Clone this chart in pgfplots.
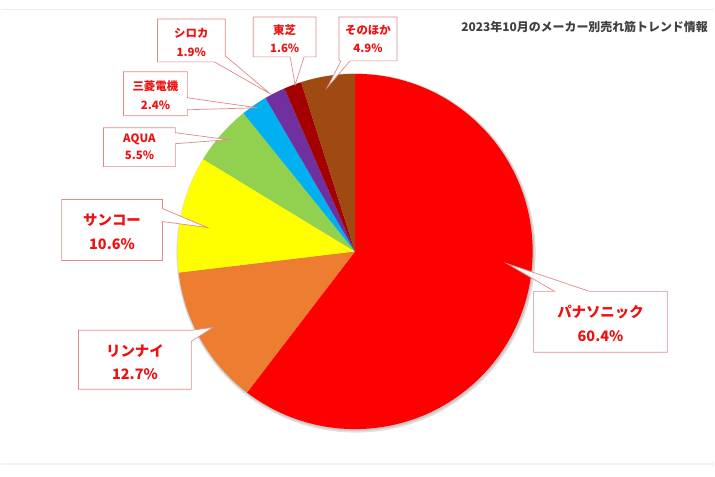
\documentclass[border=0pt]{standalone}
\usepackage{pgfplots}
\usepackage{pgfplotstable}
\pgfplotsset{compat=1.18}
\usepackage{fontspec}
\setmainfont{Noto Sans CJK JP}

\definecolor{cPan}{HTML}{FF0000}
\definecolor{cRin}{HTML}{ED7D31}
\definecolor{cSan}{HTML}{FFFF00}
\definecolor{cAqu}{HTML}{92D050}
\definecolor{cMit}{HTML}{00B0F0}
\definecolor{cShi}{HTML}{7030A0}
\definecolor{cTos}{HTML}{A50000}
\definecolor{cEtc}{HTML}{9E4A10}
\definecolor{lblred}{HTML}{EE1111}
\definecolor{boxline}{HTML}{E08A8A}
\definecolor{titlegray}{HTML}{404040}

% share in percent, clockwise from 12 o'clock
\pgfplotstableread{
name value col
パナソニック 60.4 cPan
リンナイ 12.7 cRin
サンコー 10.6 cSan
AQUA 5.5 cAqu
三菱電機 2.4 cMit
シロカ 1.9 cShi
東芝 1.6 cTos
そのほか 4.9 cEtc
}\piedata

\tikzset{
  callout/.style={draw=boxline, fill=white, line width=0.7bp, line join=miter},
  big/.style={font=\bfseries\fontsize{14.5}{17}\selectfont, text=lblred, align=center},
  small/.style={font=\bfseries\fontsize{11.5}{14}\selectfont, text=lblred, align=center},
}

\begin{document}
\begin{tikzpicture}
\begin{axis}[
    width=715bp, height=477bp, scale only axis,
    xmin=0, xmax=715, ymin=-477, ymax=0,
    hide axis, clip=false,
]
% full page area
\path (axis cs:0,0) rectangle (axis cs:715,-477);
% faint frame lines
\draw[black!7, line width=1bp] (axis cs:0,-10) -- (axis cs:715,-10);
\draw[black!5, line width=1.5bp] (axis cs:0,-465) -- (axis cs:715,-465);

% shadow
\fill[black!12] (axis cs:356,-253.5) circle[radius=180];
\fill[black!22] (axis cs:355.8,-253) circle[radius=178.8];

% slices
\pgfplotstablegetrowsof{\piedata}
\pgfmathtruncatemacro\nlast{\pgfplotsretval-1}
\xdef\slicestart{90}
\pgfplotsforeachungrouped \i in {0,...,\nlast}{
  \pgfplotstablegetelem{\i}{value}\of\piedata
  \let\sliceval\pgfplotsretval
  \pgfplotstablegetelem{\i}{col}\of\piedata
  \let\slicecol\pgfplotsretval
  \pgfmathsetmacro\sliceend{\slicestart-3.6*\sliceval}
  \edef\temp{\noexpand\fill[\slicecol] (axis cs:355,-252) --
     (axis cs:{355+178*cos(\slicestart)},{-252+178*sin(\slicestart)})
     arc[start angle=\slicestart, end angle=\sliceend, radius=178] -- cycle;}
  \temp
  \xdef\slicestart{\sliceend}
}

% callouts
\filldraw[callout] (axis cs:534,-292) -- (axis cs:555,-292) -- (axis cs:507,-264)
  -- (axis cs:590,-292) -- (axis cs:668,-292) -- (axis cs:668,-353) -- (axis cs:534,-353) -- cycle;
\node[big] at (axis cs:601,-313) {パナソニック};
\node[big] at (axis cs:601,-337) {60.4\%};

\filldraw[callout] (axis cs:78,-331) -- (axis cs:191,-331) -- (axis cs:213,-328)
  -- (axis cs:191,-342) -- (axis cs:191,-390) -- (axis cs:78,-390) -- cycle;
\node[big] at (axis cs:134.5,-352) {リンナイ};
\node[big] at (axis cs:134.5,-375) {12.7\%};

\filldraw[callout] (axis cs:61,-200) -- (axis cs:162,-200) -- (axis cs:162,-209)
  -- (axis cs:207,-228) -- (axis cs:162,-222) -- (axis cs:162,-261) -- (axis cs:61,-261) -- cycle;
\node[big] at (axis cs:111.5,-221) {サンコー};
\node[big] at (axis cs:111.5,-245) {10.6\%};

\filldraw[callout] (axis cs:103,-128) -- (axis cs:175,-128) -- (axis cs:175,-133)
  -- (axis cs:228,-140) -- (axis cs:175,-144) -- (axis cs:175,-167) -- (axis cs:103,-167) -- cycle;
\node[small] at (axis cs:139,-140) {AQUA};
\node[small] at (axis cs:139,-156) {5.5\%};

\filldraw[callout] (axis cs:123,-72) -- (axis cs:187,-72) -- (axis cs:187,-98)
  -- (axis cs:257,-108) -- (axis cs:187,-110) -- (axis cs:187,-116) -- (axis cs:123,-116) -- cycle;
\node[small] at (axis cs:155,-86) {三菱電機};
\node[small] at (axis cs:155,-105) {2.4\%};

\filldraw[callout] (axis cs:157,-19) -- (axis cs:225,-19) -- (axis cs:225,-56)
  -- (axis cs:270,-94) -- (axis cs:214,-62) -- (axis cs:157,-62) -- cycle;
\node[small] at (axis cs:191,-33) {シロカ};
\node[small] at (axis cs:191,-52) {1.9\%};

\filldraw[callout] (axis cs:253,-17) -- (axis cs:316,-17) -- (axis cs:316,-57)
  -- (axis cs:304,-57) -- (axis cs:295,-85) -- (axis cs:290,-57) -- (axis cs:253,-57) -- cycle;
\node[small] at (axis cs:284.5,-30) {東芝};
\node[small] at (axis cs:284.5,-48) {1.6\%};

\filldraw[callout] (axis cs:339,-17) -- (axis cs:397,-17) -- (axis cs:397,-61)
  -- (axis cs:350,-61) -- (axis cs:327,-88) -- (axis cs:341,-61) -- (axis cs:339,-61) -- cycle;
\node[small] at (axis cs:368,-30) {そのほか};
\node[small] at (axis cs:368,-48) {4.9\%};

% title
\node[anchor=east, text=titlegray, font=\bfseries\fontsize{12}{14}\selectfont]
  at (axis cs:712,-27) {2023年10月のメーカー別売れ筋トレンド情報};
\end{axis}
\end{tikzpicture}
\end{document}
